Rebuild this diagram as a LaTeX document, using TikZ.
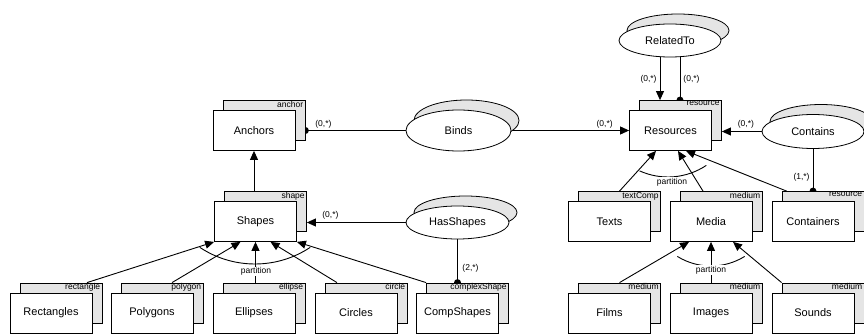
\documentclass[tikz,border=0pt]{standalone}
\usepackage{fontspec}
\setmainfont{Liberation Sans}
\usetikzlibrary{shapes.geometric,arrows.meta,backgrounds,calc}
\definecolor{shadegray}{RGB}{229,229,229}

\tikzset{
  outline/.style={line width=0.8pt, draw=black},
  entshadow/.style={outline, fill=shadegray, minimum width=82pt, minimum height=40pt, inner sep=0pt},
  entbox/.style={outline, fill=white, minimum width=82pt, minimum height=40pt, inner sep=0pt,
                 font=\fontsize{11}{13}\selectfont},
  relshadow/.style={outline, ellipse, fill=shadegray, inner sep=0pt},
  relbox/.style={outline, ellipse, fill=white, inner sep=0pt, font=\fontsize{11}{13}\selectfont},
  roletag/.style={anchor=north east, inner xsep=2pt, inner ysep=1pt, font=\fontsize{8.5}{10}\selectfont},
  card/.style={inner sep=0pt, font=\fontsize{8.5}{10}\selectfont},
  parttag/.style={fill=white, inner sep=1pt, font=\fontsize{8.5}{10}\selectfont},
  link/.style={line width=0.9pt},
  isarrow/.style={line width=0.9pt, -{Triangle[length=9pt, width=8pt]}},
  dot/.style={fill=black},
}

% entity: name, x, y (front box centre), label, role tag
\newcommand\mkentity[5]{%
  \node[entshadow] (#1-sh) at ({#2+10},{-(#3)+10}) {};
  \node[roletag] at (#1-sh.north east) {#5};
  \node[entbox] (#1) at (#2,{-(#3)}) {#4};
}
% relationship: name, x, y, width, height, label
\newcommand\mkrel[6]{%
  \node[relshadow, minimum width=#4pt, minimum height=#5pt] (#1-sh) at ({#2+8},{-(#3)+10}) {};
  \node[relbox, minimum width=#4pt, minimum height=#5pt] (#1) at (#2,{-(#3)}) {#6};
}

\begin{document}
\begin{tikzpicture}[x=1pt, y=1pt]
\useasboundingbox (0,0) rectangle (864,-334);

% ---- entities ----
\mkentity{Anchors}{254}{130.5}{Anchors}{anchor}
\mkentity{Shapes}{255.5}{221.5}{Shapes}{shape}
\mkentity{Rectangles}{51}{313}{Rectangles}{rectangle}
\mkentity{Polygons}{152}{313}{Polygons}{polygon}
\mkentity{Ellipses}{254}{313}{Ellipses}{ellipse}
\mkentity{Circles}{356}{313}{Circles}{circle}
\mkentity{CompShapes}{457.5}{313}{CompShapes}{complexShape}
\mkentity{Resources}{670.5}{130.5}{Resources}{resource}
\mkentity{Texts}{609.5}{221.5}{Texts}{textComp}
\mkentity{Media}{711}{221.5}{Media}{medium}
\mkentity{Containers}{813}{221.5}{Containers}{resource}
\mkentity{Films}{609.5}{313}{Films}{medium}
\mkentity{Images}{711}{313}{Images}{medium}
\mkentity{Sounds}{813}{313}{Sounds}{medium}

% ---- relationships ----
\mkrel{Binds}{458.5}{130.5}{105}{41}{Binds}
\mkrel{RelatedTo}{670}{40.5}{102}{33}{RelatedTo}
\mkrel{HasShapes}{457.5}{222.5}{103}{33}{HasShapes}
\mkrel{Contains}{813}{131.5}{102}{34}{Contains}

% ---- connectors ----
\begin{pgfonlayer}{background}
  % Binds
  \draw[link] (Binds.center) -- (Binds.center -| Anchors-sh.east) coordinate (bA)
    node[card, anchor=base west, xshift=9.5pt, yshift=4.5pt] {(0,*)};
  \fill[dot] (bA) circle (3.5pt);
  \draw[isarrow] (Binds.center) -- (Resources.west)
    node[card, anchor=base east, xshift=-16pt, yshift=4.5pt] {(0,*)};

  % HasShapes
  \draw[isarrow] (HasShapes.center) -- (HasShapes.center -| Shapes-sh.east)
    node[card, anchor=base west, xshift=15pt, yshift=5.5pt] {(0,*)};
  \draw[link] (HasShapes.center) -- (HasShapes.center |- CompShapes-sh.north) coordinate (hC)
    node[card, anchor=base west, xshift=4.5pt, yshift=12pt] {(2,*)};
  \fill[dot] (hC) circle (3.5pt);

  % RelatedTo
  \draw[isarrow] ([xshift=-10pt]RelatedTo.center) -- ([xshift=-10pt]RelatedTo.center |- Resources-sh.north)
    node[card, anchor=base east, xshift=-3pt, yshift=18.5pt] {(0,*)};
  \draw[link] ([xshift=10pt]RelatedTo.center) -- ([xshift=10pt]RelatedTo.center |- Resources-sh.north) coordinate (rR)
    node[card, anchor=base west, xshift=3pt, yshift=18.5pt] {(0,*)};
  \fill[dot] (rR) circle (3.5pt);

  % Contains
  \draw[isarrow] (Contains.center) -- (Contains.center -| Resources-sh.east)
    node[card, anchor=base west, xshift=15.5pt, yshift=5pt] {(0,*)};
  \draw[link] (Contains.center) -- (Contains.center |- Containers-sh.north) coordinate (cC)
    node[card, anchor=base east, xshift=-3pt, yshift=11.5pt] {(1,*)};
  \fill[dot] (cC) circle (3.5pt);

  % generalisations
  \draw[isarrow] (Anchors.south |- Shapes-sh.north) -- (Anchors.south);

  \draw[isarrow] ([xshift=26pt]Rectangles-sh.north) -- (Shapes.south west);
  \draw[isarrow] ([xshift=10pt]Polygons-sh.north) -- ([xshift=-15pt]Shapes.south);
  \draw[isarrow] (Shapes.south |- Ellipses-sh.north) -- (Shapes.south);
  \draw[isarrow] ([xshift=-29pt]Circles-sh.north) -- ([xshift=15pt]Shapes.south);
  \draw[isarrow] (CompShapes-sh.north west) -- (Shapes.south east);

  \draw[isarrow] (Texts-sh.north) -- ([xshift=-14.5pt]Resources.south);
  \draw[isarrow] ([xshift=-18pt]Media-sh.north) -- ([xshift=7.5pt]Resources.south);
  \draw[isarrow] ([xshift=5pt]Containers-sh.north west) -- ([xshift=15.5pt]Resources.south);

  \draw[isarrow] (Films-sh.north) -- ([xshift=-22pt]Media.south);
  \draw[isarrow] (Media.south |- Images-sh.north) -- (Media.south);
  \draw[isarrow] (Sounds-sh.north west) -- ([xshift=22pt]Media.south);
\end{pgfonlayer}

% ---- partition arcs ----
\draw[link] (255,-164) ++(236.5:100pt) arc[start angle=236.5, end angle=303.5, radius=100pt];
\node[parttag] at (256,-271.5) {partition};
\draw[link] (711,-202) ++(238.3:64pt) arc[start angle=238.3, end angle=301.7, radius=64pt];
\node[parttag] at (711,-270) {partition};
\draw[link] (668,-108) ++(245.7:69pt) arc[start angle=245.7, end angle=303.7, radius=69pt];
\node[parttag] at (672,-182) {partition};
\end{tikzpicture}
\end{document}
